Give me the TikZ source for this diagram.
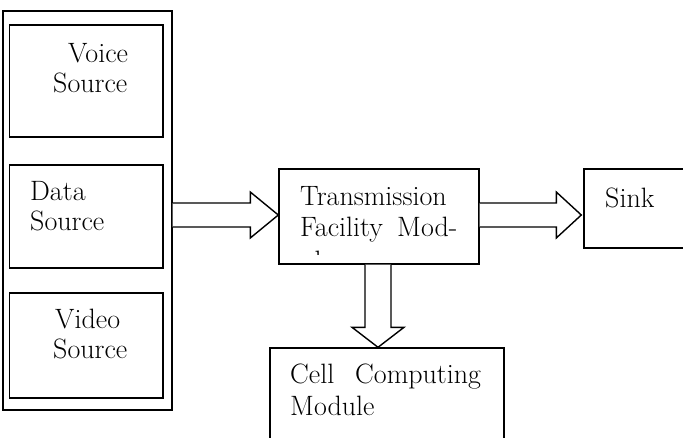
\documentclass[tikz,border=0pt]{standalone}
\usetikzlibrary{calc}
\begin{document}
\begin{tikzpicture}[x=1pt,y=-1pt,
  box/.style={draw=black,line width=1.4pt,minimum width=#1,inner sep=0pt},
  lbl/.style={anchor=base west,inner sep=0pt,font=\fontsize{28}{33}\selectfont},
  blk/.style={draw=black,line width=1.4pt,fill=white,line join=miter}]
\clip (0,0) rectangle (683,437);
\fill[white] (0,0) rectangle (683,437);
% left group
\node[box=169pt,minimum height=399pt] (outer) at (87.5,210.5) {};
\node[box=153.5pt,minimum height=112pt] (voice) at (86.25,81) {};
\node[box=153.5pt,minimum height=103pt] (data) at (86.25,216.5) {};
\node[box=153.5pt,minimum height=105pt] (video) at (86.25,345.5) {};
\node[lbl] (voice1) at (68,62) {Voice};
\node[lbl] (voice2) at (53,92) {Source};
\node[lbl] (data1) at (30,200) {Data};
\node[lbl] (data2) at (30,230) {Source};
\node[lbl] (video1) at (55,328) {Video};
\node[lbl] (video2) at (53,358) {Source};
% transmission
\node[box=200pt,minimum height=95pt] (trans) at (379,216.5) {};
\node[lbl] (trans1) at (300,205) {Transmission};
\node[lbl] (trans2) at (300,236) {Facility};
\node[lbl] (trans3) at (397,236) {Mod-};
\begin{scope}
\clip (282,240) rectangle (476,254);
\node[lbl] (trans4) at (300,270) {ule};
\end{scope}
% sink
\node[box=130pt,minimum height=79pt] (sink) at (649,208.5) {};
\node[lbl] (sink1) at (605,207) {Sink};
% cell
\node[box=234pt,minimum height=120pt] (cell) at (387,408) {};
\node[lbl] (cell1) at (290,383) {Cell};
\node[lbl] (cell2) at (355,383) {Computing};
\node[lbl] (cell3) at (290,415) {Module};
% block arrows
\coordinate (a1s) at (outer.east |- 0,215);
\coordinate (a1t) at (trans.west |- 0,215);
\draw[blk] ($(a1s)+(0,-12)$) -- ($(a1t)+(-28,-12)$) -- ($(a1t)+(-28,-23)$) -- (a1t)
  -- ($(a1t)+(-28,23)$) -- ($(a1t)+(-28,12)$) -- ($(a1s)+(0,12)$);
\coordinate (a2s) at (trans.east |- 0,215);
\coordinate (a2t) at ($(sink.west |- 0,215)+(-2,0)$);
\draw[blk] ($(a2s)+(0,-12)$) -- ($(a2t)+(-25,-12)$) -- ($(a2t)+(-25,-23)$) -- (a2t)
  -- ($(a2t)+(-25,23)$) -- ($(a2t)+(-25,12)$) -- ($(a2s)+(0,12)$);
\coordinate (a3s) at (378,0 |- trans.south);
\coordinate (a3t) at (378,0 |- cell.north);
\draw[blk] ($(a3s)+(-13,0)$) -- ($(a3t)+(-13,-20)$) -- ($(a3t)+(-26,-20)$) -- (a3t)
  -- ($(a3t)+(26,-20)$) -- ($(a3t)+(13,-20)$) -- ($(a3s)+(13,0)$);
\end{tikzpicture}
\end{document}
